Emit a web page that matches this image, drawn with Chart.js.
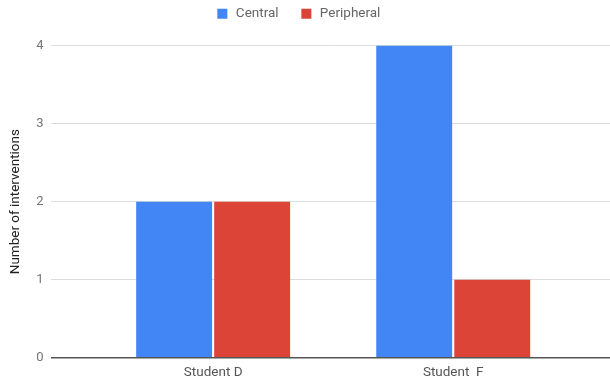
<!DOCTYPE html>
<html>
<head>
<meta charset="utf-8">
<script src="https://cdn.jsdelivr.net/npm/chart.js@4/dist/chart.umd.min.js"></script>
<style>
  html, body { margin: 0; padding: 0; background: #fff; }
  #wrap { width: 610px; height: 383px; }
</style>
</head>
<body>
<div id="wrap"><canvas id="c" width="610" height="383"></canvas></div>
<script>
// Categories and series
const students = ['Student D', 'Student  F'];
const central = [2, 4];
const peripheral = [2, 1];
const yTicks = [0, 1, 2, 3, 4];

// Students sit at positions 0, 1 on a linear x axis
const positions = students.map((_, i) => i);

// Legend spacing: extra room below it, and a small nudge to the left
const legendTweak = {
  id: 'legendTweak',
  beforeInit(chart) {
    const fit = chart.legend.fit;
    chart.legend.fit = function () {
      fit.call(this);
      this.height += 15;
    };
  },
  afterLayout(chart) {
    chart.legend.left -= 7;
    chart.legend.right -= 7;
  }
};

new Chart(document.getElementById('c'), {
  type: 'bar',
  plugins: [legendTweak],
  data: {
    datasets: [
      {
        label: 'Central',
        data: positions.map((x, i) => ({ x, y: central[i] })),
        backgroundColor: '#4285F4',
        borderWidth: 0,
        categoryPercentage: 0.65,
        barPercentage: 0.973
      },
      {
        label: 'Peripheral',
        data: positions.map((x, i) => ({ x, y: peripheral[i] })),
        backgroundColor: '#DB4437',
        borderWidth: 0,
        categoryPercentage: 0.65,
        barPercentage: 0.973
      }
    ]
  },
  options: {
    responsive: false,
    animation: false,
    layout: { padding: { left: 0, right: 0, top: -14, bottom: -5 } },
    plugins: {
      tooltip: { enabled: false },
      legend: {
        position: 'top',
        align: 'center',
        labels: {
          usePointStyle: true,
          pointStyle: 'rect',
          boxWidth: 14,
          boxHeight: 10,
          padding: 21,
          color: '#666',
          font: { family: 'Roboto', size: 13.5 }
        }
      }
    },
    scales: {
      x: {
        type: 'linear',
        offset: false,
        min: -0.6774,
        max: 1.653,
        afterBuildTicks: (axis) => { axis.ticks = positions.map(v => ({ value: v })); },
        ticks: {
          autoSkip: false,
          maxRotation: 0,
          color: '#555',
          font: { family: 'Roboto', size: 13.5 },
          padding: 7,
          callback: (v) => students[v]
        },
        grid: { display: false, drawTicks: false },
        border: { display: false }
      },
      y: {
        min: 0,
        max: 4,
        afterBuildTicks: (axis) => { axis.ticks = yTicks.map(v => ({ value: v })); },
        ticks: {
          color: '#757575',
          font: { family: 'Roboto', size: 13 },
          padding: 7
        },
        grid: {
          drawTicks: false,
          color: (ctx) => ctx.tick && ctx.tick.value === 0 ? '#555' : '#dcdcdc',
          lineWidth: (ctx) => ctx.tick && ctx.tick.value === 0 ? 1.5 : 1
        },
        border: { display: false },
        title: {
          display: true,
          text: 'Number of interventions',
          color: '#222',
          font: { family: 'Roboto', size: 13.5 },
          padding: { top: 8, bottom: 5 }
        }
      }
    }
  }
});
</script>
</body>
</html>
